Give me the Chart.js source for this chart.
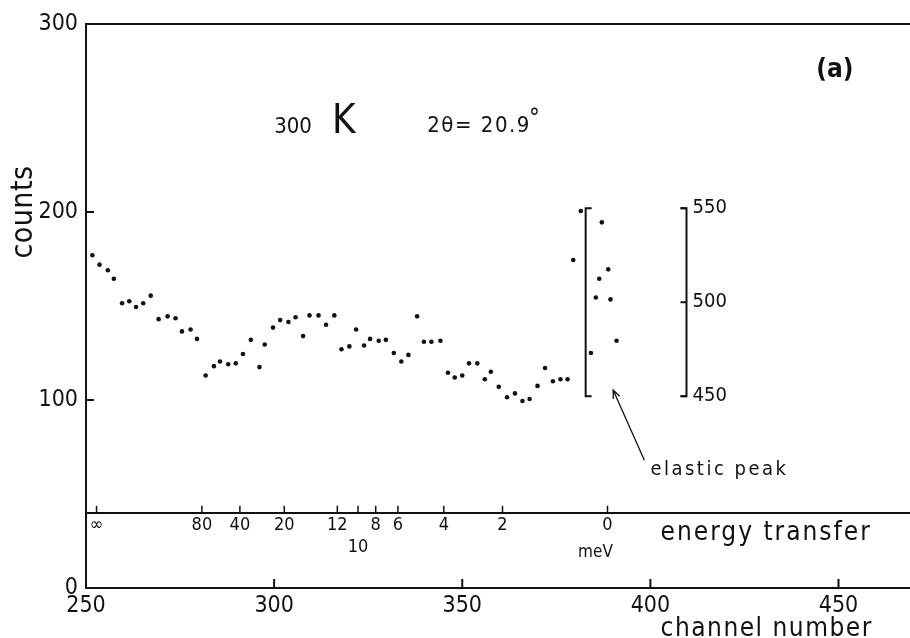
<!DOCTYPE html>
<html>
<head>
<meta charset="utf-8">
<script src="https://cdn.jsdelivr.net/npm/chart.js@4.4.1/dist/chart.umd.min.js"></script>
<style>
  html, body { margin: 0; padding: 0; background: #fff; overflow: hidden; }
  canvas { display: block; }
</style>
</head>
<body>
<canvas id="myChart" width="910" height="638"></canvas>
<script>
// counts per channel (main scale 0-300)
const channels = [251.7, 253.6, 255.8, 257.4, 259.6, 261.5, 263.3, 265.2, 267.2, 269.3, 271.7, 273.8, 275.5, 277.8, 279.5,
  281.8, 284.0, 285.6, 287.8, 289.8, 291.7, 293.8, 296.1, 297.5, 299.7, 301.6, 303.8, 305.7, 307.7, 309.4, 311.8, 313.8,
  316.0, 317.9, 320.0, 321.8, 323.9, 325.5, 327.8, 329.7, 331.8, 333.8, 335.7, 338.0, 339.8, 341.8, 344.2, 346.2, 348.0,
  350.0, 351.8, 354.0, 356.0, 357.6, 359.7, 361.9, 364.0, 366.0, 367.9, 370.0, 372.0, 374.1, 376.1, 378.0, 379.5, 381.5];
const counts = [177, 172, 169, 164.5, 151.5, 152.5, 149.5, 151.5, 155.5, 143, 144.5, 143.5, 136.5, 137.5, 132.5,
  113, 118, 120.5, 119, 119.5, 124.5, 132, 117.5, 129.5, 138.5, 142.5, 141.5, 144, 134, 145, 145, 140,
  145, 127, 128.5, 137.5, 129, 132.5, 131.5, 132, 125, 120.5, 124, 144.5, 131, 131, 131.5, 114.5, 112,
  113, 119.5, 119.5, 111, 115, 107, 101.5, 103.5, 99.5, 100.5, 107.5, 117, 110, 111, 111, 174.5, 200.5];

// elastic peak, drawn against the inset scale 450-550
const peakChannels = [384.2, 385.5, 386.4, 387.1, 388.8, 389.4, 391.0];
const peakCounts = [473, 502.5, 512.5, 542.5, 517.5, 501.5, 479.5];

const channelTicks = [250, 300, 350, 400, 450];
const countTicks = [0, 100, 200, 300];
const peakTicks = [450, 500, 550];

// energy transfer scale (meV) placed on channel numbers
const energyChannels = [252.8, 280.8, 290.9, 302.7, 316.8, 322.3, 327.0, 332.9, 345.1, 360.7, 388.6];
const energyLabels = ['∞', '80', '40', '20', '12', '10', '8', '6', '4', '2', '0'];

const FONT = "'DejaVu Sans Condensed', 'Liberation Sans Narrow', 'DejaVu Sans', sans-serif";
const INK = '#111';

Chart.defaults.font.family = FONT;
Chart.defaults.color = INK;

function txt(ctx, s, x, y, size, opts) {
  opts = opts || {};
  ctx.font = (opts.bold ? 'bold ' : '') + size + 'px ' + FONT;
  ctx.textAlign = opts.align || 'left';
  ctx.textBaseline = opts.base || 'alphabetic';
  ctx.letterSpacing = (opts.spacing || 0) + 'px';
  ctx.fillText(s, x, y);
  const w = ctx.measureText(s).width;
  ctx.letterSpacing = '0px';
  return w;
}

function noPad(s) {
  s.paddingLeft = 0; s.paddingRight = 0; s.paddingTop = 0; s.paddingBottom = 0;
}

const notes = {
  id: 'notes',
  afterDraw(chart) {
    const { ctx, chartArea, scales: { x, y, yPeak, xEnergy } } = chart;
    ctx.save();
    ctx.fillStyle = INK;
    ctx.strokeStyle = INK;

    // inward tick marks on the axes
    ctx.lineWidth = 2;
    ctx.beginPath();
    x.ticks.forEach(function (t) {
      const px = x.getPixelForValue(t.value);
      ctx.moveTo(px, chartArea.bottom); ctx.lineTo(px, chartArea.bottom - 9);
    });
    y.ticks.forEach(function (t) {
      const py = y.getPixelForValue(t.value);
      ctx.moveTo(chartArea.left, py); ctx.lineTo(chartArea.left + 8, py);
    });
    ctx.stroke();
    const ey = y.getPixelForValue(40);
    ctx.lineWidth = 1.5;
    ctx.beginPath();
    xEnergy.ticks.forEach(function (t) {
      const px = xEnergy.getPixelForValue(t.value);
      ctx.moveTo(px, ey); ctx.lineTo(px, ey - 7);
    });
    ctx.stroke();

    // bracket + inset scale for the peak
    const bl = x.getPixelForValue(382.8);
    const br = x.getPixelForValue(409.6);
    const top = yPeak.getPixelForValue(550);
    const bot = yPeak.getPixelForValue(450);
    ctx.lineWidth = 2;
    ctx.beginPath();
    ctx.moveTo(bl + 6, top); ctx.lineTo(bl, top); ctx.lineTo(bl, bot); ctx.lineTo(bl + 6, bot);
    ctx.moveTo(br - 6, top); ctx.lineTo(br, top); ctx.lineTo(br, bot); ctx.lineTo(br - 6, bot);
    ctx.stroke();
    peakTicks.forEach(function (v) {
      const py = yPeak.getPixelForValue(v);
      ctx.beginPath(); ctx.moveTo(br - 6, py); ctx.lineTo(br, py); ctx.stroke();
      txt(ctx, String(v), br + 6, py, 20, { base: 'middle' });
    });

    // arrow to the elastic peak
    const ax1 = x.getPixelForValue(398.4), ay1 = y.getPixelForValue(68);
    const ax2 = x.getPixelForValue(390.1), ay2 = y.getPixelForValue(105.3);
    const ang = Math.atan2(ay2 - ay1, ax2 - ax1);
    ctx.lineWidth = 1.3;
    ctx.beginPath();
    ctx.moveTo(ax1, ay1); ctx.lineTo(ax2, ay2);
    ctx.moveTo(ax2 - 9 * Math.cos(ang - 0.4), ay2 - 9 * Math.sin(ang - 0.4));
    ctx.lineTo(ax2, ay2);
    ctx.lineTo(ax2 - 9 * Math.cos(ang + 0.4), ay2 - 9 * Math.sin(ang + 0.4));
    ctx.stroke();
    txt(ctx, 'elastic peak', x.getPixelForValue(400), y.getPixelForValue(60), 20, { spacing: 2.5 });

    // headings
    txt(ctx, '300', x.getPixelForValue(300), y.getPixelForValue(242), 22);
    txt(ctx, 'K', x.getPixelForValue(315.4), y.getPixelForValue(242), 40);
    const hx = x.getPixelForValue(340.7), hy = y.getPixelForValue(242.5);
    const hw = txt(ctx, '2θ= 20.9', hx, hy, 22, { spacing: 1.5 });
    txt(ctx, '°', hx + hw - 2, hy - 6, 24);
    txt(ctx, '(a)', x.getPixelForValue(444.1), y.getPixelForValue(272), 26, { bold: true });

    // axis names
    txt(ctx, 'energy transfer', x.getPixelForValue(402.7), y.getPixelForValue(25.5), 26, { spacing: 2 });
    txt(ctx, 'meV', x.getPixelForValue(385.4), y.getPixelForValue(18.6), 17, { align: 'center', base: 'middle' });
    txt(ctx, 'channel number', x.getPixelForValue(402.7), y.getPixelForValue(-25.5), 26, { spacing: 1.5 });

    ctx.save();
    ctx.translate(y.left + 24, y.getPixelForValue(200));
    ctx.rotate(-Math.PI / 2);
    txt(ctx, 'counts', 0, 0, 30, { align: 'center', base: 'middle', spacing: 0.5 });
    ctx.restore();

    ctx.restore();
  }
};

var ctx = document.getElementById('myChart').getContext('2d');
var myChart = new Chart(ctx, {
  type: 'scatter',
  data: {
    datasets: [{
      data: channels.map(function (c, i) { return { x: c, y: counts[i] }; }),
      xAxisID: 'x',
      yAxisID: 'y',
      pointRadius: 2.3,
      pointBackgroundColor: INK,
      pointBorderWidth: 0
    }, {
      data: peakChannels.map(function (c, i) { return { x: c, y: peakCounts[i] }; }),
      xAxisID: 'x',
      yAxisID: 'yPeak',
      pointRadius: 2.3,
      pointBackgroundColor: INK,
      pointBorderWidth: 0
    }]
  },
  options: {
    responsive: false,
    animation: false,
    layout: { autoPadding: false, padding: { top: 24, left: 0, right: 0, bottom: 0 } },
    plugins: { legend: { display: false }, tooltip: { enabled: false } },
    scales: {
      x: {
        type: 'linear', position: 'bottom', min: 250, max: 469,
        afterBuildTicks: function (s) { s.ticks = channelTicks.map(function (v) { return { value: v }; }); },
        afterFit: function (s) { s.height = 50; noPad(s); },
        grid: { drawOnChartArea: false, drawTicks: false },
        border: { color: INK, width: 2 },
        ticks: { padding: 4, color: INK, font: { size: 23 }, maxRotation: 0, autoSkip: false }
      },
      xTop: {
        axis: 'x', type: 'linear', position: 'top', min: 250, max: 469,
        afterFit: function (s) { s.height = 0; noPad(s); },
        ticks: { display: false },
        grid: { drawOnChartArea: false, drawTicks: false },
        border: { color: INK, width: 2 }
      },
      xEnergy: {
        axis: 'x', type: 'linear', position: { y: 40 }, min: 250, max: 469,
        afterBuildTicks: function (s) { s.ticks = energyChannels.map(function (v) { return { value: v }; }); },
        afterFit: function (s) { noPad(s); },
        grid: { drawOnChartArea: false, drawTicks: false },
        border: { color: INK, width: 2 },
        ticks: {
          padding: 2, color: INK, font: { size: 18 }, maxRotation: 0, autoSkip: false,
          callback: function (v, i) {
            const lab = energyLabels[i];
            return lab === '10' ? ['', lab] : lab;
          }
        }
      },
      y: {
        position: 'left', min: 0, max: 300,
        afterBuildTicks: function (s) { s.ticks = countTicks.map(function (v) { return { value: v }; }); },
        afterFit: function (s) { s.width = 86; noPad(s); },
        grid: { drawOnChartArea: false, drawTicks: false },
        border: { color: INK, width: 2 },
        ticks: { padding: 8, color: INK, font: { size: 23 } }
      },
      yPeak: { display: false, min: 348, max: 648 }
    }
  },
  plugins: [notes]
});
</script>
</body>
</html>
